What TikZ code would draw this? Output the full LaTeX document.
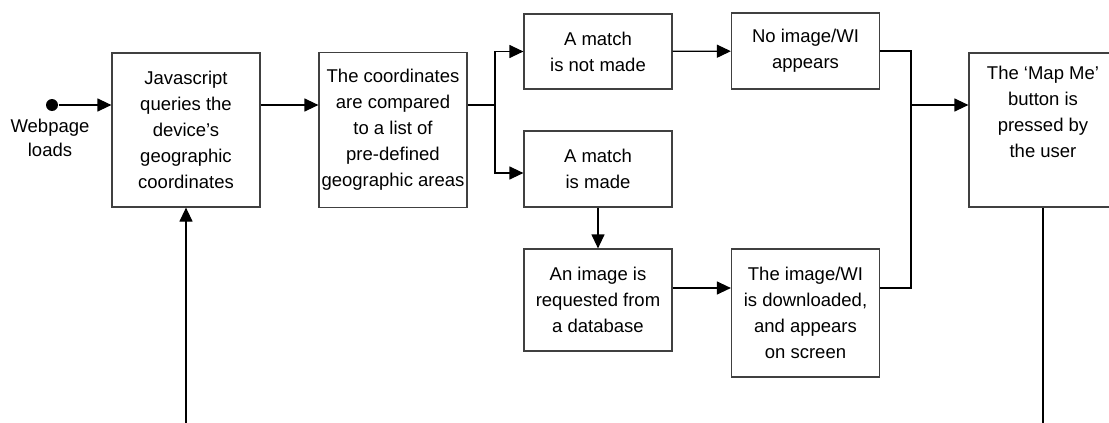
\documentclass[tikz,border=0pt]{standalone}
\usepackage{fontspec}
\setmainfont{Liberation Sans}
\usetikzlibrary{arrows.meta}
\tikzset{
  stepbox/.style={draw=black!75, line width=1.2pt, minimum width=148pt, align=center, inner sep=2pt, font=\fontsize{18.5}{26}\selectfont},
  label/.style={align=center, font=\fontsize{18.5}{24}\selectfont},
}
\begin{document}
\begin{tikzpicture}[x=1pt,y=-1pt,line width=1.2pt,>={Triangle[length=14pt,width=13pt]}]
	\clip (0,0) rectangle (1109,423);
	% boxes
	\node[stepbox,minimum height=154pt] (js) at (186,130) {Javascript\\queries the\\device’s\\geographic\\coordinates};
	\node[stepbox,minimum height=155pt] (cmp) at (393,130) {The coordinates\\are compared\\to a list of\\pre-defined\\geographic areas};
	\node[stepbox,minimum height=75pt] (nomatch) at (598,51.5) {A match\\is not made};
	\node[stepbox,minimum height=76pt] (match) at (598,169) {A match\\is made};
	\node[stepbox,minimum height=102pt] (request) at (598,300) {An image is\\requested from\\a database};
	\node[stepbox,minimum height=128pt] (download) at (805.5,313) {The image/WI\\is downloaded,\\and appears\\on screen};
	\node[stepbox,minimum height=76pt] (noimage) at (805.5,51) {No image/WI\\appears};
	\node[stepbox,minimum height=154pt] (mapme) at (1043,130) {The ‘Map Me’\\button is\\pressed by\\the user\\[10pt]~};
	% start point
	\node[circle,fill,inner sep=0pt,minimum size=12pt] (start) at (52,105) {};
	\node[label] (loads) at (50,138) {Webpage\\loads};
	% helper points
	\coordinate (split) at (495,105);
	\coordinate (join) at (911,105);
	\coordinate (merge) at (911,288);
	\coordinate (bottom) at (0,423);
	% connectors
	\draw[->] (start) -- (start -| js.west);
	\draw[->] (js.east |- start) -- (cmp.west |- start);
	\draw (cmp.east |- split) -- (split);
	\draw[->] (split) |- (nomatch.west);
	\draw[->] (split) |- ([yshift=-4pt]match.west);
	\draw[->] (match) -- (request);
	\draw[->] (request.east |- merge) -- (download.west |- merge);
	\draw[->] (nomatch) -- (noimage);
	\draw (noimage.east) -| (merge) -- (download.east |- merge);
	\draw[->] (join) -- (mapme.west |- join);
	\draw (mapme.south) -- (mapme.south |- bottom);
	\draw[->] (js.south |- bottom) -- (js.south);
\end{tikzpicture}
\end{document}
